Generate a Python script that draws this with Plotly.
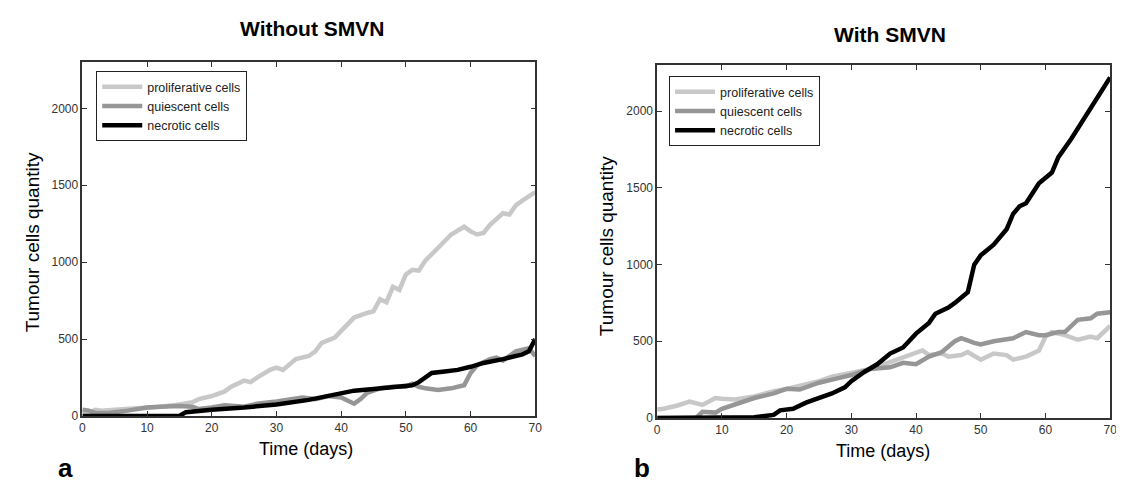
import plotly.graph_objects as go

# ---------------- data ----------------
# Panel a: Without SMVN
a_prolif_t = [0, 1, 2, 3, 5, 7, 10, 12, 15, 17, 18, 20, 22, 23, 25, 26, 27, 29, 30, 31, 33, 35, 36, 37, 39, 40, 41, 42, 44, 45, 46, 47, 48, 49, 50, 51, 52, 53, 55, 57, 59, 60, 61, 62, 63, 65, 66, 67, 68, 70]
a_prolif_v = [30, 20, 40, 35, 40, 45, 50, 60, 75, 90, 110, 130, 160, 190, 230, 220, 250, 300, 315, 300, 370, 390, 420, 475, 510, 550, 600, 640, 670, 680, 760, 740, 840, 820, 920, 950, 945, 1010, 1094, 1180, 1230, 1200, 1180, 1190, 1243, 1318, 1310, 1370, 1400, 1456]
a_quies_t = [0, 1, 2, 4, 7, 10, 12, 15, 17, 18, 20, 22, 25, 27, 30, 32, 34, 36, 38, 40, 41, 42, 43, 44, 46, 48, 50, 51, 52, 53, 55, 57, 59, 60, 61, 63, 64, 65, 67, 69, 70]
a_quies_v = [40, 35, 20, 20, 35, 55, 60, 65, 60, 45, 55, 70, 60, 80, 95, 110, 120, 110, 130, 120, 100, 80, 110, 150, 180, 190, 190, 210, 190, 180, 170, 180, 200, 280, 330, 370, 380, 360, 420, 440, 390]
a_necro_t = [0, 15, 16, 18, 20, 25, 30, 35, 38, 40, 42, 45, 48, 51, 52, 54, 56, 58, 60, 62, 65, 68, 69, 70]
a_necro_v = [0, 0, 25, 35, 40, 55, 75, 105, 130, 150, 165, 175, 190, 200, 220, 280, 290, 300, 320, 345, 370, 400, 420, 500]

# Panel b: With SMVN
b_prolif_t = [0, 1, 3, 5, 7, 9, 10, 12, 15, 18, 20, 25, 27, 30, 33, 35, 37, 40, 41, 42, 44, 45, 47, 48, 50, 52, 54, 55, 57, 59, 60, 61, 63, 65, 67, 68, 70]
b_prolif_v = [55, 60, 80, 107, 85, 130, 125, 120, 140, 175, 190, 240, 270, 295, 320, 350, 380, 427, 440, 410, 420, 400, 410, 430, 380, 420, 410, 380, 400, 440, 530, 560, 540, 510, 530, 520, 600]
b_quies_t = [0, 6, 7, 9, 10, 12, 15, 18, 20, 22, 25, 28, 30, 33, 36, 38, 40, 42, 44, 46, 47, 49, 50, 52, 55, 57, 59, 60, 62, 63, 65, 67, 68, 70]
b_quies_v = [0, 0, 40, 35, 60, 90, 130, 160, 190, 185, 230, 260, 280, 320, 330, 360, 350, 400, 430, 500, 520, 490, 480, 500, 520, 560, 540, 540, 560, 560, 640, 650, 680, 690]
b_necro_t = [0, 13, 15, 16, 18, 19, 21, 23, 25, 27, 29, 30, 32, 34, 36, 38, 40, 42, 43, 45, 46, 48, 49, 50, 52, 54, 55, 56, 57, 59, 61, 62, 64, 66, 68, 70]
b_necro_v = [0, 0, 5, 10, 20, 50, 60, 100, 130, 160, 200, 240, 300, 350, 420, 460, 550, 620, 680, 720, 750, 820, 1000, 1060, 1130, 1230, 1330, 1380, 1400, 1530, 1600, 1700, 1820, 1950, 2080, 2220]

series_names = ["proliferative cells", "quiescent cells", "necrotic cells"]
series_colors = ["#c8c8c8", "#969696", "#000000"]

x_ticks = [0, 10, 20, 30, 40, 50, 60, 70]
y_ticks = [0, 500, 1000, 1500, 2000]

panels = [
    dict(ts=[a_prolif_t, a_quies_t, a_necro_t], vs=[a_prolif_v, a_quies_v, a_necro_v]),
    dict(ts=[b_prolif_t, b_quies_t, b_necro_t], vs=[b_prolif_v, b_quies_v, b_necro_v]),
]

W, H = 1124, 484
fig = go.Figure()

for p, panel in enumerate(panels):
    xa = "x" if p == 0 else "x2"
    ya = "y" if p == 0 else "y2"
    lg = "legend" if p == 0 else "legend2"
    for i in range(3):
        fig.add_trace(go.Scatter(
            x=panel["ts"][i], y=panel["vs"][i], mode="lines",
            name=series_names[i], xaxis=xa, yaxis=ya, legend=lg,
            line=dict(color=series_colors[i], width=4.5),
        ))

axis_common = dict(
    showgrid=False, zeroline=False, showline=True, linecolor="#333333", linewidth=1.5,
    mirror="ticks", ticks="inside", ticklen=5, tickcolor="#333333",
    tickfont=dict(family="Liberation Sans", size=12, color="#333333"),
)

def px_x(v):
    return v / W

def px_y(v):
    return 1 - v / H

legend_common = dict(xanchor="left", yanchor="top",
                     bordercolor="#222222", borderwidth=1, bgcolor="white",
                     font=dict(family="Liberation Sans", size=12.5, color="#222222"),
                     tracegroupgap=0, itemwidth=40)

fig.update_layout(
    width=W, height=H, margin=dict(l=0, r=0, t=0, b=0),
    paper_bgcolor="white", plot_bgcolor="white",
    xaxis=dict(domain=[px_x(72), px_x(529)], range=[0, 70], tickvals=x_ticks, anchor="y", **axis_common),
    yaxis=dict(domain=[px_y(414), px_y(55)], range=[0, 2300], tickvals=y_ticks, anchor="x", **axis_common),
    xaxis2=dict(domain=[px_x(652), px_x(1109)], range=[0, 70], tickvals=x_ticks, anchor="y2", **axis_common),
    yaxis2=dict(domain=[px_y(416), px_y(58)], range=[0, 2300], tickvals=y_ticks, anchor="x2", **axis_common),
    legend=dict(x=px_x(86), y=px_y(64), **legend_common),
    legend2=dict(x=px_x(664), y=px_y(69), **legend_common),
)

ann_font = "Liberation Sans"
annotations = [
    dict(text="<b>Without SMVN</b>", x=px_x(304), y=px_y(21), size=21),
    dict(text="<b>With SMVN</b>", x=px_x(887), y=px_y(27), size=21),
    dict(text="Time (days)", x=px_x(298), y=px_y(447), size=18),
    dict(text="Time (days)", x=px_x(880), y=px_y(450), size=18),
    dict(text="<b>a</b>", x=px_x(55), y=px_y(467), size=26),
    dict(text="<b>b</b>", x=px_x(637), y=px_y(467), size=26),
]
for a in annotations:
    fig.add_annotation(text=a["text"], x=a["x"], y=a["y"], xref="paper", yref="paper",
                       showarrow=False, xanchor="center", yanchor="middle",
                       font=dict(family=ann_font, size=a["size"], color="#000000"))

for xc, yc in [(22, 238), (601, 242)]:
    fig.add_annotation(text="Tumour cells quantity", x=px_x(xc), y=px_y(yc), xref="paper", yref="paper",
                       showarrow=False, textangle=-90, xanchor="center", yanchor="middle",
                       font=dict(family=ann_font, size=19, color="#000000"))

fig.write_html("out.html")
